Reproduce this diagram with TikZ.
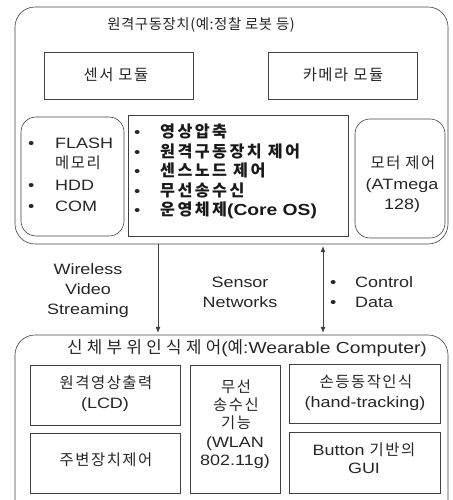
\documentclass[tikz,border=0pt]{standalone}
\usepackage{fontspec}
\usetikzlibrary{arrows.meta}
\setmainfont{Liberation Sans}[Scale=1.07,FakeStretch=1.2]
\newfontfamily\krt[Scale=1.03,LetterSpace=4]{Noto Sans CJK KR}
\newfontfamily\kr[Scale=1.1,LetterSpace=10]{Noto Sans CJK KR}
\newfontfamily\krw[Scale=1.12,LetterSpace=26]{Noto Sans CJK KR}
\newfontfamily\krb[Scale=1.08,LetterSpace=15]{Noto Sans CJK KR Bold}
\tikzset{
  x=1pt,y=-1pt,
  line/.style={draw=black!75,line width=0.6pt},
  box/.style={line,inner sep=0pt},
  rbox/.style={line,inner sep=0pt,rounded corners=15pt},
  obox/.style={line,inner sep=0pt,rounded corners=20pt},
  txt/.style={inner sep=0pt,font=\fontsize{14}{20}\selectfont,text=black!85,anchor=base},
  ltxt/.style={txt,anchor=base west},
  btxt/.style={inner sep=0pt,font=\fontsize{15}{20}\selectfont\bfseries,text=black!90,anchor=base west},
  ctxt/.style={txt,align=center,anchor=center},
  arr/.style={line,-{Latex[length=6pt,width=5pt]}},
  darr/.style={line,{Latex[length=6pt,width=5pt]}-{Latex[length=6pt,width=5pt]}}
}
\begin{document}
\begin{tikzpicture}
\useasboundingbox (0,0) rectangle (452,500);
\clip (0,0) rectangle (452,500);
% top system
\path[obox] (15,7) rectangle (448,244);
\node[minimum width=433pt,minimum height=237pt,inner sep=0pt] (top) at (231.5,125.5) {};
\node[txt] (ttl) at (201,30) {\krt 원격구동장치(예:정찰 로봇 등)};
\node[box,minimum width=149pt,minimum height=47pt] (sens) at (118.5,75.5) {};
\node[txt] at (116,81) {\kr 센서 모듈};
\node[box,minimum width=149pt,minimum height=47pt] (cam) at (342.5,75.5) {};
\node[txt] at (343,81) {\kr 카메라 모듈};
\path[rbox] (21,117) rectangle (124,236);
\node[minimum width=103pt,minimum height=119pt,inner sep=0pt] (mem) at (72.5,176.5) {};
\node[ltxt] (b1) at (28,148) {\textbullet};
\node[ltxt] at (55,148) {FLASH};
\node[ltxt] at (55,168) {\kr 메모리};
\node[ltxt] (b2) at (28,190) {\textbullet};
\node[ltxt] at (55,190) {HDD};
\node[ltxt] (b3) at (28,211) {\textbullet};
\node[ltxt] at (55,211) {COM};
\node[box,minimum width=220pt,minimum height=121pt] (core) at (238,175.5) {};
\node[ltxt] (c1) at (134,137) {\textbullet};
\node[btxt] at (160,137) {\krb 영상압축};
\node[ltxt] (c2) at (134,157) {\textbullet};
\node[btxt] at (160,157) {\krb 원격구동장치 제어};
\node[ltxt] (c3) at (134,176) {\textbullet};
\node[btxt] at (160,176) {\krb 센스노드 제어};
\node[ltxt] (c4) at (134,196) {\textbullet};
\node[btxt] at (160,196) {\krb 무선송수신};
\node[ltxt] (c5) at (134,215) {\textbullet};
\node[btxt] at (160,215) {{\krb 운영체제}(Core OS)};
\path[rbox] (355,119) rectangle (445,238);
\node[minimum width=90pt,minimum height=119pt,inner sep=0pt] (mot) at (400,178.5) {};
\node[txt] at (403,168) {\kr 모터 제어};
\node[txt] at (402,189) {(ATmega};
\node[txt] at (402,209) {128)};
% bottom system
\path[obox] (15,335) rectangle (448,530);
\node[minimum width=433pt,minimum height=195pt,inner sep=0pt] (bot) at (231.5,432.5) {};
\node[txt,font=\fontsize{15}{20}\selectfont] (bttl) at (247,353) {{\krw 신체부위인식제어}({\krw 예}:Wearable Computer)};
\node[box,minimum width=150pt,minimum height=60pt] (lcd) at (105,395) {};
\node[txt] at (106,388) {\kr 원격영상출력};
\node[txt] at (105,408) {(LCD)};
\node[box,minimum width=150pt,minimum height=60pt] (per) at (105,463) {};
\node[txt] at (106,465) {\kr 주변장치제어};
\node[box,minimum width=90pt,minimum height=128pt] (wl) at (235,429) {};
\node[txt] at (236,392) {\kr 무선};
\node[txt] at (236,410) {\kr 송수신};
\node[txt] at (236,428) {\kr 기능};
\node[txt] at (235,447) {(WLAN};
\node[txt] at (235,465) {802.11g)};
\node[box,minimum width=151pt,minimum height=59pt] (hand) at (364.5,393.5) {};
\node[txt] at (366,387) {\kr 손등동작인식};
\node[txt] at (365,407) {(hand-tracking)};
\node[box,minimum width=151pt,minimum height=61pt] (gui) at (364.5,462.5) {};
\node[txt] at (364,455) {Button {\kr 기반의}};
\node[txt] at (364,473) {GUI};
% links
\coordinate (xa) at (158,0);
\coordinate (xb) at (323,0);
\draw[arr,shorten >=2pt] (top.south -| xa) -- (bot.north -| xa);
\draw[darr,shorten >=2pt,shorten <=2pt] (top.south -| xb) -- (bot.north -| xb);
\node[ctxt] (lw) at (88,291) {Wireless\\Video\\Streaming};
\node[ctxt] (ls) at (240,292) {Sensor\\Networks};
\node[ltxt] (d1) at (330,287) {\textbullet};
\node[ltxt] at (355,287) {Control};
\node[ltxt] (d2) at (330,307) {\textbullet};
\node[ltxt] at (355,307) {Data};
\end{tikzpicture}
\end{document}
